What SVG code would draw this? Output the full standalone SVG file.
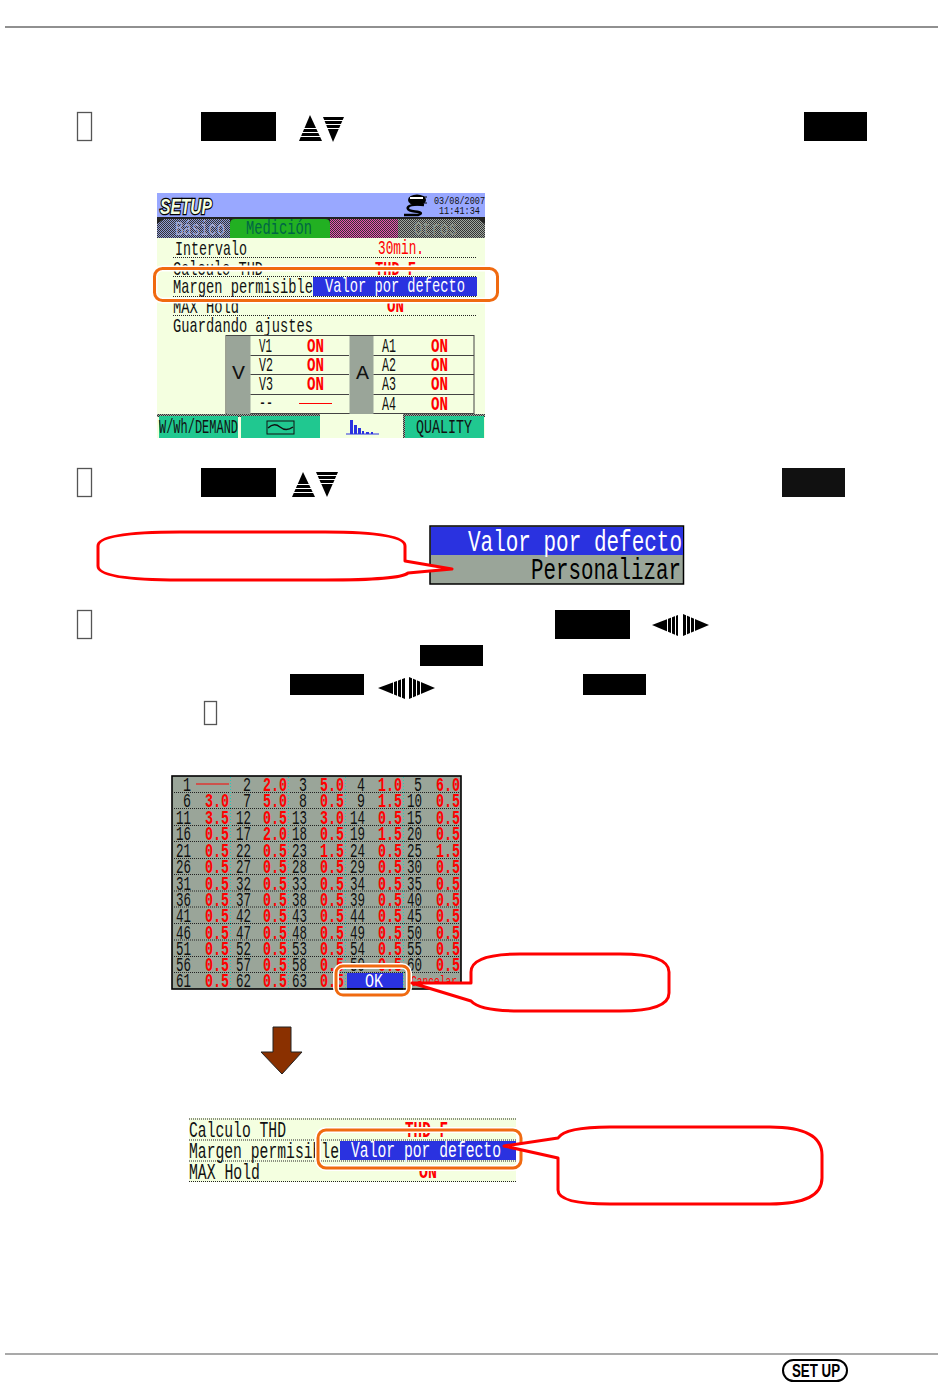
<svg xmlns="http://www.w3.org/2000/svg" width="950" height="1395" viewBox="0 0 950 1395">
<style>
text{font-family:"Liberation Mono","DejaVu Sans Mono",monospace;font-size:21px;fill:#111}
.r{fill:#f00;font-weight:700}
.t{fill:#f00}
.w{fill:#fff}
.n{text-anchor:end;font-size:20.5px}
.v{text-anchor:end;fill:#f00;font-weight:700;font-size:20.5px}
.k{fill:#000}
.tofu{fill:#fff;stroke:#555;stroke-width:1.3}
.dot{stroke:#222;stroke-width:1;stroke-dasharray:1 1;fill:none}
.tdot{stroke:#2cb;stroke-width:1;stroke-dasharray:1 2;fill:none}
.gl{stroke:#444;stroke-width:1;fill:none}
.halo{fill:none;stroke:#fff;stroke-width:6}
.or{fill:none;stroke:#f06a10;stroke-width:3}
.call{fill:#fff;stroke:#f00;stroke-width:3;stroke-linejoin:round}
.st{stroke:#fff;stroke-width:1;fill:none}
</style>
<defs>
<pattern id="dB" width="2" height="2" patternUnits="userSpaceOnUse"><rect width="2" height="2" fill="#8f9bd8"/><rect width="1" height="1" fill="#333"/><rect x="1" y="1" width="1" height="1" fill="#333"/></pattern>
<pattern id="dP" width="2" height="2" patternUnits="userSpaceOnUse"><rect width="2" height="2" fill="#ee50b0"/><rect width="1" height="1" fill="#333"/><rect x="1" y="1" width="1" height="1" fill="#333"/></pattern>
<pattern id="dG" width="2" height="2" patternUnits="userSpaceOnUse"><rect width="2" height="2" fill="#a0a8a0"/><rect width="1" height="1" fill="#333"/><rect x="1" y="1" width="1" height="1" fill="#333"/></pattern>
</defs>
<rect width="950" height="1395" fill="#fff"/>
<g id="page-rules">
<line x1="5" y1="27" x2="938" y2="27" stroke="#222" stroke-width="1.2"/>
<line x1="5" y1="1354" x2="938" y2="1354" stroke="#555" stroke-width="1.2"/>
</g>
<g id="step-1">
<rect class="tofu" x="77.500" y="112.500" width="14" height="28"/>
<rect x="201" y="112" width="75" height="29" fill="#000"/>
<polygon points="310,115 299,141 322,141" fill="#000"/>
<polygon points="323,117 344,117 333,142" fill="#000"/>
<path class="st" d="M298 128.500H323M298 132.500H323M298 136.500H323M322 120.500H345M322 124.500H345M322 128.500H345"/>
<rect x="804" y="112" width="63" height="29" fill="#000"/>
</g>
<g id="setup-screen">
<rect x="157" y="193" width="328" height="245" fill="#f4ffe0"/>
<rect x="157" y="193" width="328" height="24" fill="#99a8ff"/>
<text x="160" y="214" textLength="52" lengthAdjust="spacingAndGlyphs" style="font-family:'Liberation Sans',sans-serif;font-weight:700;font-style:italic;font-size:22px;fill:#f4ffe0;stroke:#000;stroke-width:2.6;paint-order:stroke">SETUP</text>
<g id="plug-icon"><ellipse cx="417" cy="200" rx="9" ry="5.500" fill="#000"/><rect x="410" y="197" width="13" height="2" fill="#fff"/><path d="M424 205C405 203 405 210 412 211C420 212 424 213 418 215H404" fill="none" stroke="#000" stroke-width="2.4"/><path d="M423 197h4M424 203h3" stroke="#000"/></g>
<text x="434" y="204" textLength="51" lengthAdjust="spacingAndGlyphs" style="font-size:11px">03/08/2007</text>
<text x="439" y="214" textLength="41" lengthAdjust="spacingAndGlyphs" style="font-size:11px">11:41:34</text>
<rect x="157" y="217" width="328" height="21" fill="#222"/>
<path d="M157 224l7-5h66v19h-73z" fill="url(#dB)"/>
<path d="M330 219h68v19h-68z" fill="url(#dP)"/>
<path d="M398 219h80l7 5v14h-87z" fill="url(#dG)"/>
<path d="M230 238v-14q0-5 5-5h90q5 0 5 5v14z" fill="#22b022"/>
<text x="175" y="235" textLength="50" lengthAdjust="spacingAndGlyphs" style="fill:#a4aad4;font-size:20px">Básico</text>
<text x="246" y="234" textLength="66" lengthAdjust="spacingAndGlyphs" style="fill:#064;font-size:21px">Medición</text>
<text x="414" y="235" textLength="43" lengthAdjust="spacingAndGlyphs" style="fill:#8a928a;font-size:20px">Otros</text>
<line class="dot" x1="173" y1="257.500" x2="477" y2="257.500"/>
<line class="dot" x1="173" y1="276.500" x2="477" y2="276.500"/>
<line class="dot" x1="173" y1="296.500" x2="477" y2="296.500"/>
<line class="dot" x1="173" y1="315.500" x2="477" y2="315.500"/>
<text x="175" y="255" textLength="72" lengthAdjust="spacingAndGlyphs">Intervalo</text>
<text class="t" x="378" y="254" textLength="46" lengthAdjust="spacingAndGlyphs">30min.</text>
<text x="173" y="275" textLength="90" lengthAdjust="spacingAndGlyphs">Calculo THD</text>
<text class="r" x="375" y="275" textLength="41" lengthAdjust="spacingAndGlyphs">THD F</text>
<text x="173" y="293" textLength="140" lengthAdjust="spacingAndGlyphs">Margen permisible</text>
<rect x="313" y="277" width="164" height="19" fill="#2a32e0"/>
<text class="w" x="325" y="292" textLength="140" lengthAdjust="spacingAndGlyphs">Valor por defecto</text>
<text x="173" y="313" textLength="66" lengthAdjust="spacingAndGlyphs">MAX Hold</text>
<text class="r" x="387" y="312" textLength="17" lengthAdjust="spacingAndGlyphs">ON</text>
<rect class="halo" x="154.500" y="268.500" width="343" height="32" rx="8"/>
<rect class="or" x="154.500" y="268.500" width="343" height="32" rx="8"/>
<text x="173" y="332" textLength="140" lengthAdjust="spacingAndGlyphs">Guardando ajustes</text>
<rect x="226" y="335.500" width="248" height="78" fill="none" stroke="#444"/>
<rect x="226.500" y="336" width="24" height="78" fill="#9aa599"/>
<rect x="349.500" y="336" width="24" height="78" fill="#9aa599"/>
<path class="gl" d="M250.500 355.500H349M250.500 374.500H349M250.500 394.500H349M373.500 355.500H474M373.500 374.500H474M373.500 394.500H474"/>
<text x="232" y="379" textLength="13" lengthAdjust="spacingAndGlyphs">V</text>
<text x="356" y="379" textLength="13" lengthAdjust="spacingAndGlyphs">A</text>
<text x="259" y="352" textLength="13" lengthAdjust="spacingAndGlyphs">V1</text>
<text x="259" y="371" textLength="14" lengthAdjust="spacingAndGlyphs">V2</text>
<text x="259" y="390" textLength="14" lengthAdjust="spacingAndGlyphs">V3</text>
<text x="259" y="409" textLength="14" lengthAdjust="spacingAndGlyphs">--</text>
<line x1="299" y1="403.500" x2="332" y2="403.500" stroke="#f00"/>
<text class="r" x="307" y="352" textLength="17" lengthAdjust="spacingAndGlyphs">ON</text>
<text class="r" x="307" y="371" textLength="17" lengthAdjust="spacingAndGlyphs">ON</text>
<text class="r" x="307" y="390" textLength="17" lengthAdjust="spacingAndGlyphs">ON</text>
<text x="382" y="352" textLength="14" lengthAdjust="spacingAndGlyphs">A1</text>
<text x="382" y="371" textLength="14" lengthAdjust="spacingAndGlyphs">A2</text>
<text x="382" y="390" textLength="14" lengthAdjust="spacingAndGlyphs">A3</text>
<text x="382" y="410" textLength="14" lengthAdjust="spacingAndGlyphs">A4</text>
<text class="r" x="431" y="352" textLength="17" lengthAdjust="spacingAndGlyphs">ON</text>
<text class="r" x="431" y="371" textLength="17" lengthAdjust="spacingAndGlyphs">ON</text>
<text class="r" x="431" y="390" textLength="17" lengthAdjust="spacingAndGlyphs">ON</text>
<text class="r" x="431" y="410" textLength="17" lengthAdjust="spacingAndGlyphs">ON</text>
<rect x="157" y="414" width="83" height="3" fill="url(#dG)"/>
<rect x="240" y="414" width="80" height="3" fill="url(#dG)"/>
<rect x="403" y="414" width="82" height="3" fill="url(#dG)"/>
<rect x="159" y="416" width="79" height="22" fill="#20c890"/>
<rect x="241" y="416" width="79" height="22" fill="#20c890"/>
<rect x="405" y="416" width="79" height="22" fill="#20c890"/>
<rect x="403" y="414" width="2" height="24" fill="url(#dG)"/>
<text x="159" y="433" textLength="79" lengthAdjust="spacingAndGlyphs" style="font-size:20px">W/Wh/DEMAND</text>
<text x="416" y="433" textLength="56" lengthAdjust="spacingAndGlyphs" style="font-size:20px">QUALITY</text>
<rect x="267" y="421" width="27" height="13" fill="none" stroke="#111" stroke-width="1"/>
<path d="M268 428q6-6 12-1t13 0" fill="none" stroke="#111" stroke-width="1.400"/>
<g id="bars" fill="#2a32e0"><rect x="350" y="420" width="3" height="14"/><rect x="354" y="425" width="3" height="9"/><rect x="358" y="428" width="3" height="6"/><rect x="362" y="431" width="2" height="3"/><rect x="366" y="432" width="3" height="2"/><rect x="371" y="432" width="2" height="2"/><rect x="346" y="433.500" width="33" height="1"/></g>
</g>
<g id="step-2">
<rect class="tofu" x="77.500" y="468.500" width="14" height="28"/>
<rect x="201" y="468" width="75" height="29" fill="#000"/>
<polygon points="303,472 292,497 315,497" fill="#000"/>
<polygon points="316,472 338,472 327,497" fill="#000"/>
<path class="st" d="M291 484.500H316M291 488.500H316M291 492.500H316M315 475.500H339M315 479.500H339M315 483.500H339"/>
<rect x="782" y="468" width="63" height="29" fill="#111"/>
</g>
<g id="dropdown">
<rect x="430" y="526" width="253.500" height="58" fill="#9aa599" stroke="#000" stroke-width="1.500"/>
<rect x="431" y="527" width="252" height="28" fill="#2a32e0"/>
<text class="w" x="468" y="551" textLength="214" lengthAdjust="spacingAndGlyphs" style="font-size:29px">Valor por defecto</text>
<text class="k" x="531" y="579" textLength="150" lengthAdjust="spacingAndGlyphs" style="font-size:29px">Personalizar</text>
</g>
<g id="callout-1">
<path class="call" d="M98 546Q98 532 180 532H325Q405 532 405 546V561L452 569L408 573Q400 580 325 580H180Q98 580 98 566Z"/>
</g>
<g id="step-3">
<rect class="tofu" x="77.500" y="610.500" width="14" height="28"/>
<rect x="555" y="610" width="75" height="29" fill="#000"/>
<polygon points="652,625 678,615 678,636" fill="#000"/>
<polygon points="683,614 709,625 683,636" fill="#000"/>
<path class="st" d="M667.500 612V638M671.500 612V638M675.500 612V638M686.500 612V638M690.500 612V638M694.500 612V638"/>
<rect x="420" y="645" width="63" height="21" fill="#000"/>
<rect x="290" y="674" width="74" height="21" fill="#000"/>
<polygon points="378,688 405,678 405,699" fill="#000"/>
<polygon points="409,677 435,688 409,699" fill="#000"/>
<path class="st" d="M393.500 675V701M397.500 675V701M401.500 675V701M412.500 675V701M416.500 675V701M420.500 675V701"/>
<rect x="583" y="674" width="63" height="21" fill="#000"/>
<rect class="tofu" x="204.500" y="701.500" width="12" height="23"/>
</g>
<g id="value-table">
<rect x="172" y="776" width="289" height="213" fill="#9aa599" stroke="#000" stroke-width="1.600"/>
<path class="dot" d="M172 792.500H461M172 808.500H461M172 825.500H461M172 841.500H461M172 858.500H461M172 874.500H461M172 891H461M172 907H461M172 923.500H461M172 940H461M172 956.500H461M172 972.500H461"/>
<path class="tdot" d="M230.500 777V988M288.500 777V988M345.500 777V988M403.500 777V988"/>
<line x1="196" y1="784" x2="229" y2="784" stroke="#f00" stroke-width="1.200"/>
<g id="nums">
<text class="n" x="191" y="791" textLength="8" lengthAdjust="spacingAndGlyphs">1</text><text class="n" x="251" y="791" textLength="8" lengthAdjust="spacingAndGlyphs">2</text><text class="v" x="287" y="791" textLength="24" lengthAdjust="spacingAndGlyphs">2.0</text><text class="n" x="307" y="791" textLength="8" lengthAdjust="spacingAndGlyphs">3</text><text class="v" x="344" y="791" textLength="24" lengthAdjust="spacingAndGlyphs">5.0</text><text class="n" x="365" y="791" textLength="8" lengthAdjust="spacingAndGlyphs">4</text><text class="v" x="402" y="791" textLength="24" lengthAdjust="spacingAndGlyphs">1.0</text><text class="n" x="422" y="791" textLength="8" lengthAdjust="spacingAndGlyphs">5</text><text class="v" x="460" y="791" textLength="24" lengthAdjust="spacingAndGlyphs">6.0</text>
<text class="n" x="191" y="807" textLength="8" lengthAdjust="spacingAndGlyphs">6</text><text class="v" x="229" y="807" textLength="24" lengthAdjust="spacingAndGlyphs">3.0</text><text class="n" x="251" y="807" textLength="8" lengthAdjust="spacingAndGlyphs">7</text><text class="v" x="287" y="807" textLength="24" lengthAdjust="spacingAndGlyphs">5.0</text><text class="n" x="307" y="807" textLength="8" lengthAdjust="spacingAndGlyphs">8</text><text class="v" x="344" y="807" textLength="24" lengthAdjust="spacingAndGlyphs">0.5</text><text class="n" x="365" y="807" textLength="8" lengthAdjust="spacingAndGlyphs">9</text><text class="v" x="402" y="807" textLength="24" lengthAdjust="spacingAndGlyphs">1.5</text><text class="n" x="422" y="807" textLength="15" lengthAdjust="spacingAndGlyphs">10</text><text class="v" x="460" y="807" textLength="24" lengthAdjust="spacingAndGlyphs">0.5</text>
<text class="n" x="191" y="824" textLength="15" lengthAdjust="spacingAndGlyphs">11</text><text class="v" x="229" y="824" textLength="24" lengthAdjust="spacingAndGlyphs">3.5</text><text class="n" x="251" y="824" textLength="15" lengthAdjust="spacingAndGlyphs">12</text><text class="v" x="287" y="824" textLength="24" lengthAdjust="spacingAndGlyphs">0.5</text><text class="n" x="307" y="824" textLength="15" lengthAdjust="spacingAndGlyphs">13</text><text class="v" x="344" y="824" textLength="24" lengthAdjust="spacingAndGlyphs">3.0</text><text class="n" x="365" y="824" textLength="15" lengthAdjust="spacingAndGlyphs">14</text><text class="v" x="402" y="824" textLength="24" lengthAdjust="spacingAndGlyphs">0.5</text><text class="n" x="422" y="824" textLength="15" lengthAdjust="spacingAndGlyphs">15</text><text class="v" x="460" y="824" textLength="24" lengthAdjust="spacingAndGlyphs">0.5</text>
<text class="n" x="191" y="840" textLength="15" lengthAdjust="spacingAndGlyphs">16</text><text class="v" x="229" y="840" textLength="24" lengthAdjust="spacingAndGlyphs">0.5</text><text class="n" x="251" y="840" textLength="15" lengthAdjust="spacingAndGlyphs">17</text><text class="v" x="287" y="840" textLength="24" lengthAdjust="spacingAndGlyphs">2.0</text><text class="n" x="307" y="840" textLength="15" lengthAdjust="spacingAndGlyphs">18</text><text class="v" x="344" y="840" textLength="24" lengthAdjust="spacingAndGlyphs">0.5</text><text class="n" x="365" y="840" textLength="15" lengthAdjust="spacingAndGlyphs">19</text><text class="v" x="402" y="840" textLength="24" lengthAdjust="spacingAndGlyphs">1.5</text><text class="n" x="422" y="840" textLength="15" lengthAdjust="spacingAndGlyphs">20</text><text class="v" x="460" y="840" textLength="24" lengthAdjust="spacingAndGlyphs">0.5</text>
<text class="n" x="191" y="857" textLength="15" lengthAdjust="spacingAndGlyphs">21</text><text class="v" x="229" y="857" textLength="24" lengthAdjust="spacingAndGlyphs">0.5</text><text class="n" x="251" y="857" textLength="15" lengthAdjust="spacingAndGlyphs">22</text><text class="v" x="287" y="857" textLength="24" lengthAdjust="spacingAndGlyphs">0.5</text><text class="n" x="307" y="857" textLength="15" lengthAdjust="spacingAndGlyphs">23</text><text class="v" x="344" y="857" textLength="24" lengthAdjust="spacingAndGlyphs">1.5</text><text class="n" x="365" y="857" textLength="15" lengthAdjust="spacingAndGlyphs">24</text><text class="v" x="402" y="857" textLength="24" lengthAdjust="spacingAndGlyphs">0.5</text><text class="n" x="422" y="857" textLength="15" lengthAdjust="spacingAndGlyphs">25</text><text class="v" x="460" y="857" textLength="24" lengthAdjust="spacingAndGlyphs">1.5</text>
<text class="n" x="191" y="873" textLength="15" lengthAdjust="spacingAndGlyphs">26</text><text class="v" x="229" y="873" textLength="24" lengthAdjust="spacingAndGlyphs">0.5</text><text class="n" x="251" y="873" textLength="15" lengthAdjust="spacingAndGlyphs">27</text><text class="v" x="287" y="873" textLength="24" lengthAdjust="spacingAndGlyphs">0.5</text><text class="n" x="307" y="873" textLength="15" lengthAdjust="spacingAndGlyphs">28</text><text class="v" x="344" y="873" textLength="24" lengthAdjust="spacingAndGlyphs">0.5</text><text class="n" x="365" y="873" textLength="15" lengthAdjust="spacingAndGlyphs">29</text><text class="v" x="402" y="873" textLength="24" lengthAdjust="spacingAndGlyphs">0.5</text><text class="n" x="422" y="873" textLength="15" lengthAdjust="spacingAndGlyphs">30</text><text class="v" x="460" y="873" textLength="24" lengthAdjust="spacingAndGlyphs">0.5</text>
<text class="n" x="191" y="890" textLength="15" lengthAdjust="spacingAndGlyphs">31</text><text class="v" x="229" y="890" textLength="24" lengthAdjust="spacingAndGlyphs">0.5</text><text class="n" x="251" y="890" textLength="15" lengthAdjust="spacingAndGlyphs">32</text><text class="v" x="287" y="890" textLength="24" lengthAdjust="spacingAndGlyphs">0.5</text><text class="n" x="307" y="890" textLength="15" lengthAdjust="spacingAndGlyphs">33</text><text class="v" x="344" y="890" textLength="24" lengthAdjust="spacingAndGlyphs">0.5</text><text class="n" x="365" y="890" textLength="15" lengthAdjust="spacingAndGlyphs">34</text><text class="v" x="402" y="890" textLength="24" lengthAdjust="spacingAndGlyphs">0.5</text><text class="n" x="422" y="890" textLength="15" lengthAdjust="spacingAndGlyphs">35</text><text class="v" x="460" y="890" textLength="24" lengthAdjust="spacingAndGlyphs">0.5</text>
<text class="n" x="191" y="906" textLength="15" lengthAdjust="spacingAndGlyphs">36</text><text class="v" x="229" y="906" textLength="24" lengthAdjust="spacingAndGlyphs">0.5</text><text class="n" x="251" y="906" textLength="15" lengthAdjust="spacingAndGlyphs">37</text><text class="v" x="287" y="906" textLength="24" lengthAdjust="spacingAndGlyphs">0.5</text><text class="n" x="307" y="906" textLength="15" lengthAdjust="spacingAndGlyphs">38</text><text class="v" x="344" y="906" textLength="24" lengthAdjust="spacingAndGlyphs">0.5</text><text class="n" x="365" y="906" textLength="15" lengthAdjust="spacingAndGlyphs">39</text><text class="v" x="402" y="906" textLength="24" lengthAdjust="spacingAndGlyphs">0.5</text><text class="n" x="422" y="906" textLength="15" lengthAdjust="spacingAndGlyphs">40</text><text class="v" x="460" y="906" textLength="24" lengthAdjust="spacingAndGlyphs">0.5</text>
<text class="n" x="191" y="922" textLength="15" lengthAdjust="spacingAndGlyphs">41</text><text class="v" x="229" y="922" textLength="24" lengthAdjust="spacingAndGlyphs">0.5</text><text class="n" x="251" y="922" textLength="15" lengthAdjust="spacingAndGlyphs">42</text><text class="v" x="287" y="922" textLength="24" lengthAdjust="spacingAndGlyphs">0.5</text><text class="n" x="307" y="922" textLength="15" lengthAdjust="spacingAndGlyphs">43</text><text class="v" x="344" y="922" textLength="24" lengthAdjust="spacingAndGlyphs">0.5</text><text class="n" x="365" y="922" textLength="15" lengthAdjust="spacingAndGlyphs">44</text><text class="v" x="402" y="922" textLength="24" lengthAdjust="spacingAndGlyphs">0.5</text><text class="n" x="422" y="922" textLength="15" lengthAdjust="spacingAndGlyphs">45</text><text class="v" x="460" y="922" textLength="24" lengthAdjust="spacingAndGlyphs">0.5</text>
<text class="n" x="191" y="939" textLength="15" lengthAdjust="spacingAndGlyphs">46</text><text class="v" x="229" y="939" textLength="24" lengthAdjust="spacingAndGlyphs">0.5</text><text class="n" x="251" y="939" textLength="15" lengthAdjust="spacingAndGlyphs">47</text><text class="v" x="287" y="939" textLength="24" lengthAdjust="spacingAndGlyphs">0.5</text><text class="n" x="307" y="939" textLength="15" lengthAdjust="spacingAndGlyphs">48</text><text class="v" x="344" y="939" textLength="24" lengthAdjust="spacingAndGlyphs">0.5</text><text class="n" x="365" y="939" textLength="15" lengthAdjust="spacingAndGlyphs">49</text><text class="v" x="402" y="939" textLength="24" lengthAdjust="spacingAndGlyphs">0.5</text><text class="n" x="422" y="939" textLength="15" lengthAdjust="spacingAndGlyphs">50</text><text class="v" x="460" y="939" textLength="24" lengthAdjust="spacingAndGlyphs">0.5</text>
<text class="n" x="191" y="955" textLength="15" lengthAdjust="spacingAndGlyphs">51</text><text class="v" x="229" y="955" textLength="24" lengthAdjust="spacingAndGlyphs">0.5</text><text class="n" x="251" y="955" textLength="15" lengthAdjust="spacingAndGlyphs">52</text><text class="v" x="287" y="955" textLength="24" lengthAdjust="spacingAndGlyphs">0.5</text><text class="n" x="307" y="955" textLength="15" lengthAdjust="spacingAndGlyphs">53</text><text class="v" x="344" y="955" textLength="24" lengthAdjust="spacingAndGlyphs">0.5</text><text class="n" x="365" y="955" textLength="15" lengthAdjust="spacingAndGlyphs">54</text><text class="v" x="402" y="955" textLength="24" lengthAdjust="spacingAndGlyphs">0.5</text><text class="n" x="422" y="955" textLength="15" lengthAdjust="spacingAndGlyphs">55</text><text class="v" x="460" y="955" textLength="24" lengthAdjust="spacingAndGlyphs">0.5</text>
<text class="n" x="191" y="971" textLength="15" lengthAdjust="spacingAndGlyphs">56</text><text class="v" x="229" y="971" textLength="24" lengthAdjust="spacingAndGlyphs">0.5</text><text class="n" x="251" y="971" textLength="15" lengthAdjust="spacingAndGlyphs">57</text><text class="v" x="287" y="971" textLength="24" lengthAdjust="spacingAndGlyphs">0.5</text><text class="n" x="307" y="971" textLength="15" lengthAdjust="spacingAndGlyphs">58</text><text class="v" x="344" y="971" textLength="24" lengthAdjust="spacingAndGlyphs">0.5</text><text class="n" x="365" y="971" textLength="15" lengthAdjust="spacingAndGlyphs">59</text><text class="v" x="402" y="971" textLength="24" lengthAdjust="spacingAndGlyphs">0.5</text><text class="n" x="422" y="971" textLength="15" lengthAdjust="spacingAndGlyphs">60</text><text class="v" x="460" y="971" textLength="24" lengthAdjust="spacingAndGlyphs">0.5</text>
<text class="n" x="191" y="987" textLength="15" lengthAdjust="spacingAndGlyphs">61</text><text class="v" x="229" y="987" textLength="24" lengthAdjust="spacingAndGlyphs">0.5</text><text class="n" x="251" y="987" textLength="15" lengthAdjust="spacingAndGlyphs">62</text><text class="v" x="287" y="987" textLength="24" lengthAdjust="spacingAndGlyphs">0.5</text><text class="n" x="307" y="987" textLength="15" lengthAdjust="spacingAndGlyphs">63</text><text class="v" x="344" y="987" textLength="24" lengthAdjust="spacingAndGlyphs">0.5</text>
<text x="411" y="986" textLength="46" lengthAdjust="spacingAndGlyphs" style="fill:#f00;font-size:14px">Cancelar</text>
</g>
<rect x="347" y="973" width="56" height="16" fill="#2a32e0"/>
<rect x="347" y="988" width="56" height="1.500" fill="#000"/>
<text class="w" x="365" y="987" textLength="18" lengthAdjust="spacingAndGlyphs" style="font-size:20px">OK</text>
<rect class="halo" x="336" y="966" width="73" height="29" rx="7"/>
<rect class="or" x="336" y="966" width="73" height="29" rx="7"/>
</g>
<g id="callout-2">
<path class="call" d="M471 972Q471 954 520 954H620Q669 954 669 972V993Q669 1011 620 1011H520Q480 1011 471 1001L412 983L471 983Z"/>
</g>
<g id="connectors">
<polygon points="273,1027 291,1027 291,1052 302,1052 282,1074 261,1052 273,1052" fill="#8a3000" stroke="#222" stroke-width="1"/>
</g>
<g id="result-row">
<rect x="189" y="1118" width="327" height="64" fill="#f4ffe0"/>
<line class="dot" x1="189" y1="1119" x2="516" y2="1119"/>
<line class="dot" x1="189" y1="1140" x2="516" y2="1140"/>
<line class="dot" x1="189" y1="1161" x2="516" y2="1161"/>
<line class="dot" x1="189" y1="1181.500" x2="516" y2="1181.500"/>
<text x="189" y="1137" textLength="97" lengthAdjust="spacingAndGlyphs" style="font-size:22px">Calculo THD</text>
<text class="r" x="405" y="1137" textLength="43" lengthAdjust="spacingAndGlyphs" style="font-size:22px">THD F</text>
<text x="189" y="1158" textLength="150" lengthAdjust="spacingAndGlyphs" style="font-size:22px">Margen permisible</text>
<rect x="340" y="1141" width="176" height="19" fill="#2a32e0"/>
<text class="w" x="351" y="1157" textLength="150" lengthAdjust="spacingAndGlyphs" style="font-size:22px">Valor por defecto</text>
<text x="189" y="1179" textLength="71" lengthAdjust="spacingAndGlyphs" style="font-size:22px">MAX Hold</text>
<text class="r" x="419" y="1178" textLength="18" lengthAdjust="spacingAndGlyphs">ON</text>
<rect class="halo" x="318" y="1130" width="203" height="38" rx="8"/>
<rect class="or" x="318" y="1130" width="203" height="38" rx="8"/>
</g>
<g id="callout-3">
<path class="call" d="M558 1138Q565 1127 610 1127H770Q822 1127 822 1155V1178Q822 1204 770 1204H610Q558 1204 558 1190V1158L504 1146Z"/>
</g>
<g id="setup-badge">
<rect x="783" y="1360" width="64" height="21" rx="10.500" fill="#fff" stroke="#000" stroke-width="2"/>
<text x="792" y="1377" textLength="48" lengthAdjust="spacingAndGlyphs" style="font-family:'Liberation Sans',sans-serif;font-weight:700;font-size:19px;fill:#000">SET UP</text>
</g>
</svg>
